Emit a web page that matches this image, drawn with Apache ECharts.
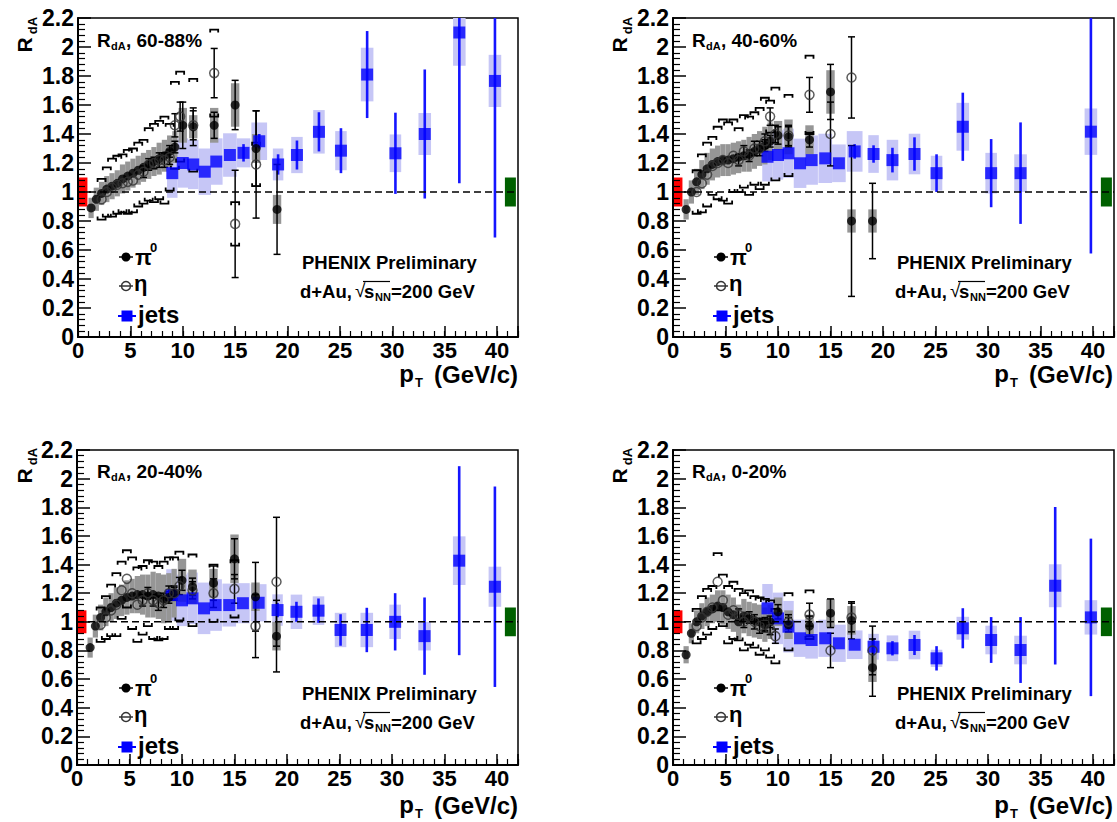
<!DOCTYPE html>
<html><head><meta charset="utf-8">
<script src="https://cdn.jsdelivr.net/npm/echarts@6/dist/echarts.min.js"></script>
<style>html,body{margin:0;padding:0;background:#fff}#c{width:1117px;height:822px}</style>
</head><body><div id="c"></div>
<script>
// ---------------- DATA ----------------
const centralities = ['60-88%', '40-60%', '20-40%', '0-20%'];
const xTickLabels = [0, 5, 10, 15, 20, 25, 30, 35, 40];

// pi0
const pi0X = [1.25,1.75,2.25,2.75,3.25,3.75,4.25,4.75,5.25,5.75,6.25,6.75,7.25,7.75,8.25,8.75,9.25,10,11,13,15,17,19];
const pi0Y_6088 = [0.89,0.95,0.99,1.02,1.04,1.06,1.09,1.11,1.13,1.15,1.17,1.19,1.21,1.23,1.25,1.28,1.31,1.46,1.45,1.46,1.60,1.30,0.88];
const pi0Stat_6088 = [0.02,0.02,0.02,0.02,0.02,0.02,0.02,0.02,0.02,0.02,0.02,0.03,0.03,0.03,0.03,0.04,0.04,0.16,0.13,0.09,0.17,0.26,0.31];
const pi0Sys_6088 = [0.07,0.08,0.08,0.09,0.09,0.09,0.10,0.10,0.10,0.10,0.10,0.10,0.10,0.11,0.11,0.11,0.11,0.12,0.08,0.12,0.15,0.10,0.10];
const pi0Y_4060 = [0.88,1.00,1.07,1.12,1.16,1.19,1.21,1.22,1.22,1.23,1.24,1.25,1.26,1.28,1.30,1.32,1.35,1.39,1.38,1.36,1.69,0.80,0.80];
const pi0Stat_4060 = [0.02,0.02,0.02,0.02,0.02,0.02,0.02,0.02,0.02,0.02,0.02,0.03,0.03,0.03,0.03,0.04,0.04,0.06,0.07,0.05,0.19,0.52,0.26];
const pi0Sys_4060 = [0.07,0.08,0.09,0.10,0.11,0.11,0.11,0.11,0.11,0.11,0.11,0.11,0.12,0.12,0.12,0.13,0.13,0.10,0.12,0.10,0.15,0.08,0.08];
const pi0Y_2040 = [0.82,0.97,1.03,1.07,1.10,1.13,1.15,1.17,1.18,1.19,1.19,1.18,1.19,1.18,1.16,1.17,1.20,1.29,1.245,1.27,1.44,1.175,0.90];
const pi0Stat_2040 = [0.02,0.02,0.02,0.02,0.02,0.02,0.02,0.02,0.02,0.02,0.02,0.03,0.03,0.03,0.03,0.04,0.04,0.07,0.06,0.12,0.14,0.24,0.25];
const pi0Sys_2040 = [0.07,0.08,0.09,0.10,0.10,0.11,0.11,0.12,0.12,0.13,0.14,0.15,0.16,0.16,0.17,0.17,0.17,0.15,0.12,0.10,0.17,0.10,0.10];
const pi0Y_020 = [0.77,0.92,1.00,1.04,1.07,1.09,1.11,1.10,1.07,1.05,1.00,1.04,1.02,1.01,1.00,0.98,1.00,1.07,0.98,0.97,1.06,1.01,0.68];
const pi0Stat_020 = [0.02,0.02,0.02,0.02,0.02,0.02,0.02,0.02,0.02,0.02,0.02,0.03,0.03,0.03,0.03,0.04,0.04,0.05,0.05,0.07,0.10,0.13,0.20];
const pi0Sys_020 = [0.06,0.07,0.08,0.09,0.10,0.10,0.11,0.12,0.12,0.12,0.12,0.12,0.12,0.12,0.12,0.12,0.12,0.10,0.10,0.08,0.10,0.10,0.10];

// eta
const etaX = [2.25,2.75,3.25,3.75,4.25,4.75,5.25,5.75,6.25,6.75,7.25,7.75,8.25,8.75,9.25,9.75,11,13,15,17,19];
const etaY_6088 = [0.95,1.00,1.03,1.05,1.06,1.07,1.08,1.12,1.14,1.19,1.20,1.22,1.22,1.24,1.46,1.52,1.46,1.82,0.78,1.19,null];
const etaStat_6088 = [0.03,0.03,0.03,0.03,0.03,0.03,0.03,0.03,0.04,0.04,0.04,0.05,0.05,0.05,0.08,0.10,0.10,0.17,0.37,0.37,null];
const etaSys_6088 = [0.14,0.17,0.20,0.20,0.20,0.22,0.22,0.22,0.22,0.25,0.27,0.27,0.30,0.23,0.30,0.31,0.32,0.30,0.15,0.15,null];
const etaY_4060 = [1.00,1.06,1.12,1.18,1.20,1.22,1.20,1.25,1.22,1.28,1.25,1.30,1.30,1.35,1.52,1.40,1.39,1.67,1.40,1.79,null];
const etaStat_4060 = [0.03,0.03,0.03,0.03,0.03,0.03,0.03,0.03,0.04,0.04,0.04,0.05,0.05,0.05,0.06,0.06,0.07,0.12,0.22,0.28,null];
const etaSys_4060 = [0.15,0.20,0.22,0.20,0.25,0.28,0.28,0.25,0.22,0.25,0.27,0.25,0.28,0.30,0.11,0.32,0.28,0.27,null,null,null];
const etaY_2040 = [0.98,1.03,1.08,1.12,1.22,1.30,1.20,1.12,1.15,1.20,1.15,1.13,1.15,1.20,1.20,1.25,1.22,1.20,1.23,0.97,1.28];
const etaStat_2040 = [0.03,0.03,0.03,0.03,0.03,0.03,0.03,0.03,0.04,0.04,0.04,0.05,0.05,0.05,0.05,0.06,0.06,0.10,0.10,0.22,0.45];
const etaSys_2040 = [0.12,0.15,0.18,0.22,0.20,0.20,0.25,0.26,0.24,0.23,0.27,0.26,0.27,0.25,0.25,0.24,0.25,0.20,0.20,null,null];
const etaY_020 = [0.97,1.03,1.07,1.10,1.28,1.15,1.05,1.08,1.05,1.00,1.03,1.00,0.97,0.98,0.95,0.90,1.00,1.05,0.80,1.03,0.80];
const etaStat_020 = [0.03,0.03,0.03,0.03,0.03,0.03,0.03,0.03,0.04,0.04,0.04,0.05,0.05,0.05,0.04,0.05,0.05,0.08,0.12,0.10,0.17];
const etaSys_020 = [0.12,0.15,0.16,0.15,0.20,0.18,0.20,0.20,0.18,0.20,0.19,0.18,0.20,0.18,0.20,0.19,0.20,0.17,null,null,null];

// jets
const jetX = [9.0,10.0,11.0,12.1,13.2,14.5,15.8,17.3,19.1,20.9,23.0,25.1,27.6,30.3,33.1,36.4,39.8];
const jetBinHalf = [0.5,0.5,0.5,0.6,0.6,0.65,0.65,0.75,0.5,0.55,0.55,0.55,0.6,0.55,0.6,0.6,0.6];
const jetY_6088 = [1.13,1.20,1.19,1.14,1.21,1.255,1.27,1.35,1.19,1.255,1.415,1.285,1.81,1.267,1.40,2.10,1.766];
const jetStat_6088 = [0.02,0.02,0.02,0.03,0.03,0.04,0.06,0.05,0.07,0.10,0.135,0.155,0.30,0.28,0.445,1.04,1.08];
const jetSys_6088 = [0.17,0.17,0.17,0.16,0.16,0.15,0.10,0.13,0.11,0.125,0.15,0.135,0.185,0.13,0.145,0.23,0.18];
const jetY_4060 = [1.243,1.255,1.267,1.198,1.22,1.232,1.198,1.28,1.262,1.22,1.262,1.13,1.45,1.13,1.13,null,1.416];
const jetStat_4060 = [0.02,0.02,0.02,0.03,0.03,0.03,0.04,0.05,0.06,0.085,0.115,0.13,0.235,0.235,0.35,null,0.84];
const jetSys_4060 = [0.17,0.17,0.17,0.17,0.17,0.17,0.13,0.14,0.13,0.14,0.14,0.12,0.165,0.14,0.13,null,0.16];
const jetY_2040 = [1.187,1.15,1.164,1.094,1.117,1.117,1.13,1.133,1.082,1.07,1.078,0.943,0.943,1.0,0.90,1.427,1.245];
const jetStat_2040 = [0.02,0.02,0.02,0.03,0.03,0.03,0.04,0.04,0.05,0.07,0.085,0.11,0.155,0.2,0.27,0.66,0.7];
const jetSys_2040 = [0.18,0.18,0.18,0.18,0.18,0.15,0.14,0.13,0.11,0.12,0.1,0.12,0.12,0.12,0.1,0.17,0.14];
const jetY_020 = [1.094,1.024,0.966,0.885,0.873,0.885,0.85,0.84,0.826,0.815,0.838,0.745,0.955,0.873,0.803,1.252,1.031];
const jetStat_020 = [0.02,0.02,0.02,0.02,0.02,0.03,0.03,0.04,0.06,0.05,0.07,0.085,0.14,0.16,0.23,0.55,0.55];
const jetSys_020 = [0.17,0.18,0.18,0.13,0.13,0.13,0.13,0.1,0.09,0.09,0.1,0.06,0.08,0.1,0.1,0.15,0.12];

// global normalisation uncertainties (around R=1): red (pi0/eta), green (jets)
const normUncRed = [0.10, 0.10, 0.08, 0.08];
const normUncGreen = [0.10, 0.10, 0.10, 0.10];

// ---------------- LAYOUT / STYLE ----------------
const FONT = '"Liberation Sans", Arial, sans-serif';
const grids = [
  {left: 78, top: 18, width: 440, height: 319},
  {left: 673, top: 18, width: 442, height: 319},
  {left: 77, top: 450, width: 441, height: 315},
  {left: 673, top: 450, width: 442, height: 315}
];
const offs = [[0, 0], [595, 0], [0, 431], [595, 431]];

const panels = [
  {pi0Y: pi0Y_6088, pi0Stat: pi0Stat_6088, pi0Sys: pi0Sys_6088, etaY: etaY_6088, etaStat: etaStat_6088, etaSys: etaSys_6088, jetY: jetY_6088, jetStat: jetStat_6088, jetSys: jetSys_6088},
  {pi0Y: pi0Y_4060, pi0Stat: pi0Stat_4060, pi0Sys: pi0Sys_4060, etaY: etaY_4060, etaStat: etaStat_4060, etaSys: etaSys_4060, jetY: jetY_4060, jetStat: jetStat_4060, jetSys: jetSys_4060},
  {pi0Y: pi0Y_2040, pi0Stat: pi0Stat_2040, pi0Sys: pi0Sys_2040, etaY: etaY_2040, etaStat: etaStat_2040, etaSys: etaSys_2040, jetY: jetY_2040, jetStat: jetStat_2040, jetSys: jetSys_2040},
  {pi0Y: pi0Y_020, pi0Stat: pi0Stat_020, pi0Sys: pi0Sys_020, etaY: etaY_020, etaStat: etaStat_020, etaSys: etaSys_020, jetY: jetY_020, jetStat: jetStat_020, jetSys: jetSys_020}
];

function zip(xs) {
  const cols = Array.prototype.slice.call(arguments, 1);
  const out = [];
  xs.forEach(function (x, k) {
    const row = [x].concat(cols.map(function (c) { return c[k]; }));
    if (row.every(function (v) { return v !== null && v !== undefined; })) out.push(row);
  });
  return out;
}

function boxItem(fill) {
  return function (params, api) {
    const x = api.value(0), y = api.value(1), s = api.value(2), hw = api.value(3);
    if (isNaN(y)) return null;
    const a = api.coord([x - hw, y + s]), b = api.coord([x + hw, y - s]);
    return {type: 'rect', shape: {x: a[0], y: a[1], width: b[0] - a[0], height: b[1] - a[1]}, style: {fill: fill}};
  };
}
function normItem(fill, x0, x1) {
  return function (params, api) {
    const c = api.value(0), u = api.value(1);
    const a = api.coord([x0, c + u]), b = api.coord([x1, c - u]);
    return {type: 'rect', shape: {x: a[0], y: a[1], width: b[0] - a[0], height: b[1] - a[1]}, style: {fill: fill}};
  };
}
function errItem(stroke, lw, cap, minPx) {
  return function (params, api) {
    const x = api.value(0), y = api.value(1), e = api.value(2);
    if (isNaN(y) || isNaN(e)) return null;
    const t = api.coord([x, y + e]), b = api.coord([x, y - e]);
    if ((b[1] - t[1]) / 2 < minPx) return null;
    const st = {stroke: stroke, lineWidth: lw};
    const ch = [{type: 'line', shape: {x1: t[0], y1: t[1], x2: b[0], y2: b[1]}, style: st}];
    if (cap) {
      ch.push({type: 'line', shape: {x1: t[0] - cap, y1: t[1], x2: t[0] + cap, y2: t[1]}, style: st});
      ch.push({type: 'line', shape: {x1: b[0] - cap, y1: b[1], x2: b[0] + cap, y2: b[1]}, style: st});
    }
    return {type: 'group', children: ch};
  };
}
function bracketItem(params, api) {
  const x = api.value(0), y = api.value(1), s = api.value(2);
  if (isNaN(y) || isNaN(s)) return null;
  const t = api.coord([x, y + s]), b = api.coord([x, y - s]);
  const w = 4, h = 3;
  const st = {stroke: '#000', lineWidth: 1.8, fill: null};
  return {type: 'group', children: [
    {type: 'polyline', shape: {points: [[t[0] - w, t[1] + h], [t[0] - w, t[1]], [t[0] + w, t[1]], [t[0] + w, t[1] + h]]}, style: st},
    {type: 'polyline', shape: {points: [[b[0] - w, b[1] - h], [b[0] - w, b[1]], [b[0] + w, b[1]], [b[0] + w, b[1] - h]]}, style: st}
  ]};
}

const xAxes = [], yAxes = [], series = [], gfx = [];
const axisLabelStyle = {fontSize: 23, fontWeight: 'bold', color: '#000', fontFamily: FONT};

panels.forEach(function (P, i) {
  xAxes.push({
    gridIndex: i, type: 'value', min: 0, max: 42, interval: 5, position: 'bottom', z: 10,
    axisLine: {lineStyle: {color: '#000', width: 2}},
    axisTick: {inside: true, length: 11, lineStyle: {color: '#000', width: 1.5}},
    axisLabel: Object.assign({}, axisLabelStyle, {fontSize: 22, margin: 2, formatter: function (v) { return xTickLabels.indexOf(v) >= 0 ? String(v) : ''; }}),
    splitLine: {show: false}
  });
  xAxes.push({
    gridIndex: i, type: 'value', min: 0, max: 42, interval: 1, position: 'bottom', z: 10,
    axisLine: {show: false, onZero: false},
    axisTick: {inside: true, length: 6, lineStyle: {color: '#000', width: 1.2}},
    axisLabel: {show: false}, splitLine: {show: false}
  });
  yAxes.push({
    gridIndex: i, type: 'value', min: 0, max: 2.2, interval: 0.2, z: 10,
    axisLine: {show: true, lineStyle: {color: '#000', width: 2}},
    axisTick: {inside: true, length: 13, lineStyle: {color: '#000', width: 1.5}},
    minorTick: {show: true, splitNumber: 5, length: 7, lineStyle: {color: '#000', width: 1.2}},
    axisLabel: Object.assign({margin: 4, formatter: function (v) { return String(+v.toFixed(1)); }}, axisLabelStyle),
    splitLine: {show: false}
  });

  const base = {xAxisIndex: 2 * i, yAxisIndex: i, silent: true, animation: false};
  const jetRows = zip(jetX, P.jetY, P.jetSys, jetBinHalf);
  const pi0Rows = zip(pi0X, P.pi0Y, P.pi0Sys).map(function (r) { return r.concat([r[0] < 9.6 ? 0.25 : 0.4]); });

  series.push(Object.assign({type: 'custom', clip: true, renderItem: boxItem('#c6c6f6'), data: jetRows}, base));
  series.push(Object.assign({type: 'custom', clip: true, renderItem: boxItem('#969696'), data: pi0Rows}, base));
  series.push(Object.assign({type: 'custom', clip: true, renderItem: normItem('#ff0000', 0, 0.9), data: [[1, normUncRed[i]]]}, base));
  series.push(Object.assign({type: 'custom', clip: true, renderItem: normItem('#006000', 40.75, 41.8), data: [[1, normUncGreen[i]]]}, base));
  series.push(Object.assign({type: 'line', data: [[0, 1], [42, 1]], showSymbol: false, symbol: 'none',
    lineStyle: {color: '#000', width: 1.5, type: [7, 4]}}, base));
  series.push(Object.assign({type: 'custom', clip: true, renderItem: bracketItem, data: zip(etaX, P.etaY, P.etaSys)}, base));
  series.push(Object.assign({type: 'custom', clip: true, renderItem: errItem('#1515ff', 2.6, 0, 6), data: zip(jetX, P.jetY, P.jetStat)}, base));
  series.push(Object.assign({type: 'scatter', symbol: 'rect', symbolSize: 12, itemStyle: {color: '#0000ff'}, data: zip(jetX, P.jetY)}, base));
  series.push(Object.assign({type: 'custom', clip: true, renderItem: errItem('#000', 1.5, 3.5, 5), data: zip(pi0X, P.pi0Y, P.pi0Stat)}, base));
  series.push(Object.assign({type: 'custom', clip: true, renderItem: errItem('#000', 1.5, 3.5, 5), data: zip(etaX, P.etaY, P.etaStat)}, base));
  series.push(Object.assign({type: 'scatter', symbol: 'circle', symbolSize: 9, itemStyle: {color: '#000'}, data: zip(pi0X, P.pi0Y)}, base));
  series.push(Object.assign({type: 'scatter', symbol: 'circle', symbolSize: 9,
    itemStyle: {color: 'rgba(0,0,0,0)', borderColor: '#333', borderWidth: 1.5}, data: zip(etaX, P.etaY)}, base));

  // texts and legend
  const dx = offs[i][0], dy = offs[i][1];
  function T(text, x, y, size, extra) {
    return {type: 'text', x: x + dx, y: y + dy, silent: true, z: 20,
      style: Object.assign({text: text, fill: '#000', fontFamily: FONT, fontSize: size, fontWeight: 'bold', align: 'left', verticalAlign: 'middle'}, extra || {})};
  }
  function L(x1, y1, x2, y2, color, w) {
    return {type: 'line', silent: true, z: 20, shape: {x1: x1 + dx, y1: y1 + dy, x2: x2 + dx, y2: y2 + dy}, style: {stroke: color, lineWidth: w}};
  }
  gfx.push(
    {type: 'text', x: 24 + dx, y: 45 + dy, rotation: Math.PI / 2, silent: true, z: 20,
      style: {text: 'R', fill: '#000', fontFamily: FONT, fontSize: 21, fontWeight: 'bold', align: 'center', verticalAlign: 'middle'}},
    {type: 'text', x: 32.5 + dx, y: 25.5 + dy, rotation: Math.PI / 2, silent: true, z: 20,
      style: {text: 'dA', fill: '#000', fontFamily: FONT, fontSize: 13, fontWeight: 'bold', align: 'center', verticalAlign: 'middle'}},
    T('R', 97, 40, 19),
    T('dA', 111, 46, 11),
    T(', ' + centralities[i], 126, 40, 19),
    T('p', 414, 373, 24, {align: 'right'}),
    T('T', 415, 382, 13),
    T('(GeV/c)', 518, 374, 24, {align: 'right'}),
    T('PHENIX Preliminary', 302, 262, 18.5),
    T('d+Au,', 300, 291, 18.5),
    T('\u221A', 355, 290, 19, {fontWeight: 'normal'}),
    L(363, 281.5, 390, 281.5, '#000', 1.2),
    T('s', 364, 291, 18.5),
    T('NN', 375, 297, 11),
    T('=200 GeV', 391, 291, 18.5),
    // legend
    L(119, 257, 133, 257, '#000', 1.5),
    {type: 'circle', silent: true, z: 20, shape: {cx: 126 + dx, cy: 257 + dy, r: 4.5}, style: {fill: '#000'}},
    T('\u03C0', 135, 257, 22),
    T('0', 150, 247, 13),
    L(119, 286, 133, 286, '#333', 1.5),
    {type: 'circle', silent: true, z: 20, shape: {cx: 126 + dx, cy: 286 + dy, r: 4.5}, style: {fill: 'rgba(0,0,0,0)', stroke: '#333', lineWidth: 1.5}},
    T('\u03B7', 134, 283, 22),
    L(118, 316, 136, 316, '#0000ff', 2),
    {type: 'rect', silent: true, z: 20, shape: {x: 121.5 + dx, y: 310.5 + dy, width: 11, height: 11}, style: {fill: '#0000ff'}},
    T('jets', 138, 314, 24)
  );
});

const chart = echarts.init(document.getElementById('c'), null, {renderer: 'svg'});
chart.setOption({
  animation: false,
  backgroundColor: '#fff',
  grid: grids.map(function (g) { return Object.assign({show: true, borderColor: '#000', borderWidth: 1.5, backgroundColor: 'transparent'}, g); }),
  xAxis: xAxes,
  yAxis: yAxes,
  series: series,
  graphic: {elements: gfx}
});
</script>
</body></html>
